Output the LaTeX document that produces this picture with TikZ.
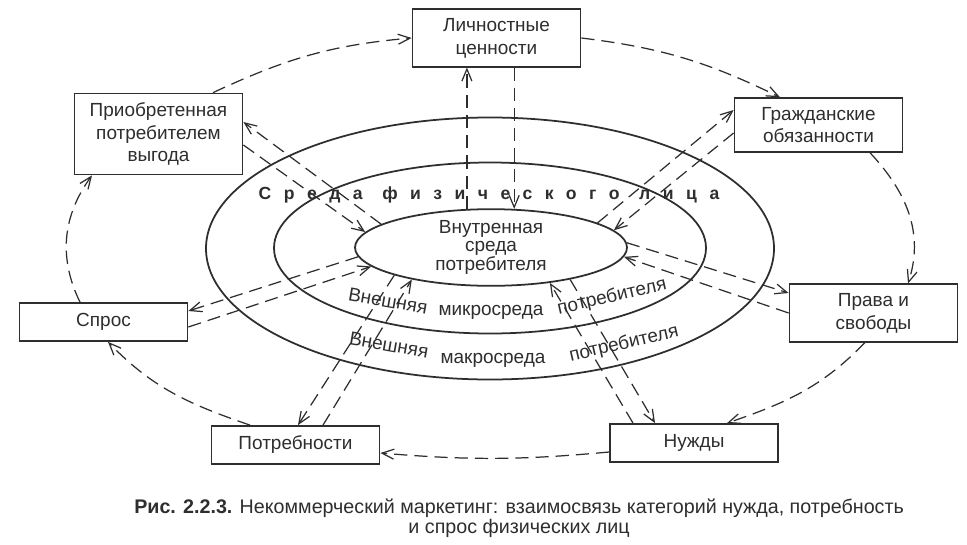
\documentclass[tikz,border=0pt]{standalone}
\usepackage{fontspec}
\setmainfont{Liberation Sans}
\newfontfamily\espace[LetterSpace=71]{Liberation Sans Bold}
\usepackage{tikz}
\usetikzlibrary{shapes}
\usetikzlibrary{arrows.meta}
\definecolor{encre}{HTML}{2E2E2E}
\tikzstyle{bloc}=[
        draw=encre,
        rectangle,
        line width=1pt,
        minimum width=3.36cm,
        minimum height=0.76cm,
        inner ysep=5pt,
        align=center,
        text=encre,
        font=\fontsize{10.8}{13}\selectfont
]
\tikzstyle{noyau}=[ellipse,draw=encre,line width=1pt,minimum width=5.44cm,minimum height=1.5cm,inner sep=0pt,align=center,text=encre,font=\fontsize{10.8}{10}\selectfont]
\tikzstyle{anneau}=[draw=encre,line width=1pt]
\tikzstyle{zone}=[text=encre,inner sep=0pt,font=\fontsize{10.8}{13}\selectfont]
\tikzstyle{titre}=[text=encre,inner sep=0pt,font=\espace\fontsize{10}{12}\selectfont]
\tikzstyle{legende}=[text=encre,align=center,font=\fontsize{11.2}{11.4}\selectfont]
\tikzstyle{lien}=[->,>={Straight Barb[length=2.4mm,width=2mm]},draw=encre,line width=0.7pt,dash pattern=on 7.5pt off 4pt]

\begin{document}
\begin{tikzpicture}
\useasboundingbox[fill=white] (0,0) rectangle (19.34,-10.88);
\draw[anneau] (9.8,-4.96) ellipse (4.32cm and 1.71cm);
\draw[anneau] (9.8,-4.97) ellipse (5.68cm and 2.62cm);
\node[noyau] (vnutr) at (9.82,-4.95) {Внутренная\\среда\\потребителя};
\node[bloc] (lichn) at (9.93,-0.76) {Личностные\\ценности};
\node[bloc] (vygoda) at (3.17,-2.68) {Приобретенная\\потребителем\\выгода};
\node[bloc] (grazhd) at (16.37,-2.5) {Гражданские\\обязанности};
\node[bloc] (prava) at (17.47,-6.26) {Права и\\свободы};
\node[bloc] (nuzhdy) at (13.88,-8.86) {Нужды};
\node[bloc] (potrebn) at (5.91,-8.9) {Потребности};
\node[bloc] (spros) at (2.07,-6.44) {Спрос};
\node[titre] (sreda) at (9.78,-3.9) {Среда\hspace{1.12em}физического\hspace{1.12em}лица};
\node[zone,rotate=-10] (mikro1) at (7.76,-6.02) {Внешняя};
\node[zone] (mikro2) at (9.82,-6.24) {микросреда};
\node[zone,rotate=13] (mikro3) at (12.24,-5.94) {потребителя};
\node[zone,rotate=-10] (makro1) at (7.78,-6.9) {Внешняя};
\node[zone] (makro2) at (9.86,-7.2) {макросреда};
\node[zone,rotate=13] (makro3) at (12.48,-6.88) {потребителя};
\node[legende] (legende) at (10.38,-10.36) {\textbf{Рис. 2.2.3.} Некоммерческий маркетинг: взаимосвязь категорий нужда, потребность\\и спрос физических лиц};
%liaisons
\draw[lien] ([xshift=1.09cm]vygoda.north) to[out=25,in=185] (lichn.west);
\draw[lien] (lichn.east) to[out=-7,in=154] ([xshift=-0.77cm]grazhd.north);
\draw[lien] ([xshift=1.03cm]grazhd.south) to[out=-47,in=72] ([xshift=0.69cm]prava.north);
\draw[lien] ([xshift=-0.17cm]prava.south) to[out=-134,in=19] ([xshift=0.66cm]nuzhdy.north);
\draw[lien] ([yshift=-0.18cm]nuzhdy.west) to[bend left=5] ([yshift=-0.16cm]potrebn.east);
\draw[lien] ([xshift=-0.91cm]potrebn.north) to[out=161,in=-46] ([xshift=0.09cm]spros.south);
\draw[lien] ([xshift=-0.47cm]spros.north) to[out=116,in=-126] ([xshift=-1.33cm]vygoda.south);
\draw[lien] (vnutr.168) -- ([yshift=0.24cm]vygoda.east);
\draw[lien] ([yshift=-0.22cm]vygoda.east) -- (vnutr.173);
\draw[lien] (vnutr.122) -- (vnutr.122 |- lichn.south);
\draw[lien] (vnutr.59 |- lichn.south) -- (vnutr.59);
\draw[lien] (vnutr.13) -- ([yshift=0.3cm]grazhd.west);
\draw[lien] ([yshift=-0.16cm]grazhd.west) -- (vnutr.8);
\draw[lien] (vnutr.2) -- ([yshift=0.4cm]prava.west);
\draw[lien] (prava.west) -- (vnutr.-4);
\draw[lien] ([xshift=-1.22cm]nuzhdy.north) -- (vnutr.-31);
\draw[lien] (vnutr.-22) -- ([xshift=-0.78cm]nuzhdy.north);
\draw[lien] (vnutr.196) -- ([xshift=0.05cm]potrebn.north);
\draw[lien] ([xshift=0.55cm]potrebn.north) -- (vnutr.202);
\draw[lien] (vnutr.184) -- ([yshift=0.22cm]spros.east);
\draw[lien] ([yshift=-0.1cm]spros.east) -- (vnutr.189);
\end{tikzpicture}
\end{document}
